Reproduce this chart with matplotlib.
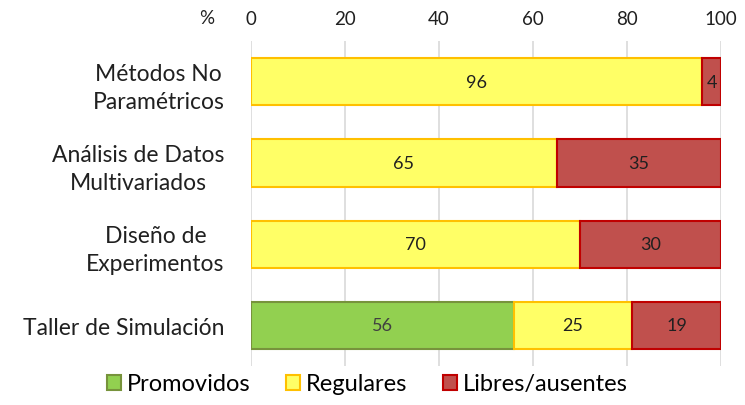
import matplotlib.pyplot as plt
import numpy as np

plt.rcParams['font.family'] = ['Lato', 'DejaVu Sans']

categories = ["Métodos No\nParamétricos", "Análisis de Datos\nMultivariados",
              "Diseño de\nExperimentos", "Taller de Simulación"]
promovidos = [0, 0, 0, 56]
regulares = [96, 65, 70, 25]
libres = [4, 35, 30, 19]
series_names = ["Promovidos", "Regulares", "Libres/ausentes"]

fig = plt.figure(figsize=(7.45, 4.06), dpi=100)
ax = fig.add_axes([0.337, 0.096, 0.631, 0.80])

y = np.arange(len(categories))
h = 0.58
faces = ["#92D050", "#FFFF66", "#C0504D"]
edges = ["#77933C", "#FFC000", "#C00000"]
txtcol = ["#404040", "#202020", "#202020"]

left = np.zeros(len(categories))
for vals, name, fc, ec, tc in zip([promovidos, regulares, libres], series_names, faces, edges, txtcol):
    vals = np.array(vals, dtype=float)
    bars = ax.barh(y, vals, left=left, height=h, color=fc, edgecolor=ec,
                   linewidth=1.5, label=name, zorder=3)
    for b, v in zip(bars, vals):
        if v > 0:
            ax.text(b.get_x() + b.get_width() / 2, b.get_y() + b.get_height() / 2,
                    "%d" % v, ha='center', va='center', fontsize=13, color=tc, zorder=4)
    left += vals

ax.set_xlim(0, 100)
ax.set_ylim(len(categories) - 0.5, -0.5)
ax.set_yticks(y)
ax.set_yticklabels(categories, fontsize=16.5, linespacing=1.4, multialignment='center')
ax.set_xticks(range(0, 101, 20))
ax.xaxis.tick_top()
ax.tick_params(axis='x', labelsize=13.5, length=0, pad=10, colors='#202020')
ax.tick_params(axis='y', length=0, pad=19, colors='#202020')
ax.grid(axis='x', color='#D9D9D9', linewidth=1.2, zorder=0)
for s in ax.spines.values():
    s.set_visible(False)

fig.text(207 / 745, 1 - 18 / 406, "%", fontsize=13.5, ha='center', va='center', color='#202020')

ax.legend(loc='center', bbox_to_anchor=(367 / 745, 1 - 385 / 406), bbox_transform=fig.transFigure,
          ncol=3, frameon=False, fontsize=17, handlelength=0.6, handleheight=0.6,
          handletextpad=0.25, columnspacing=1.5, borderpad=0)

fig.savefig("out.png", dpi=100)
